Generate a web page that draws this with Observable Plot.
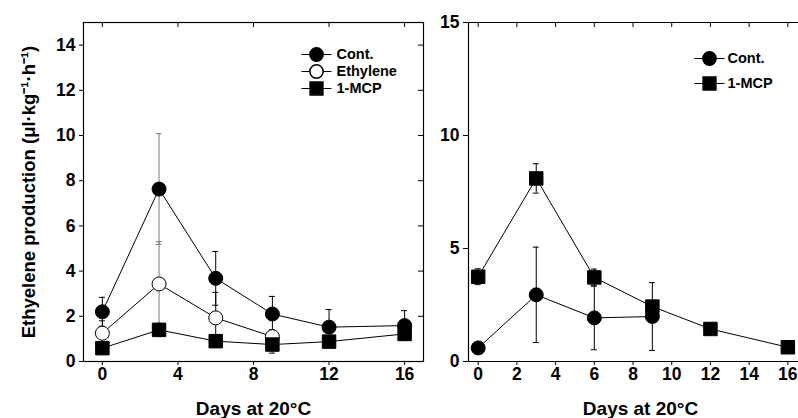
<!DOCTYPE html>
<html>
<head>
<meta charset="utf-8">
<script src="https://cdn.jsdelivr.net/npm/d3@7"></script>
<script src="https://cdn.jsdelivr.net/npm/@observablehq/plot@0.6"></script>
<style>
  html, body { margin: 0; padding: 0; background: #fff; }
  #chart { position: relative; width: 798px; height: 418px; overflow: hidden; }
  #chart > svg { position: absolute; top: 0; }
</style>
</head>
<body>
<div id="chart"></div>
<script>
// ---------- data ----------
const yLabel = "Ethyelene production (μl·kg⁻¹·h⁻¹)";
const xLabel = "Days at 20°C";

// Left panel
const leftDays = [0, 3, 6, 9, 12, 16];
const leftCont = [2.2, 7.63, 3.68, 2.1, 1.52, 1.59];
const leftContSE = [0.64, 2.45, 1.19, 0.78, 0.78, 0.66];
const leftEthDays = [0, 3, 6, 9];
const leftEth = [1.25, 3.43, 1.93, 1.1];
const leftEthSE = [0.55, 1.87, 1.13, 0.3];
const leftMCP = [0.59, 1.4, 0.9, 0.75, 0.88, 1.22];
const leftMCPSE = [0.15, 0.3, 0.2, 0.38, 0.2, 0.29];
const leftXTicks = [0, 4, 8, 12, 16];
const leftYTicks = [0, 2, 4, 6, 8, 10, 12, 14];
const leftLegend = ["Cont.", "Ethylene", "1-MCP"];

// Right panel
const rightDays = [0, 3, 6, 9, 12, 16];
const rightMCP = [3.75, 8.1, 3.72, 2.43, 1.44, 0.63];
const rightMCPSE = [0.35, 0.65, 0.37, 0.2, 0.1, 0.1];
const rightContDays = [0, 3, 6, 9];
const rightCont = [0.6, 2.95, 1.93, 1.99];
const rightContSE = [0.15, 2.11, 1.41, 1.5];
const rightXTicks = [0, 2, 4, 6, 8, 10, 12, 14, 16];
const rightYTicks = [0, 5, 10, 15];
const rightLegend = ["Cont.", "1-MCP"];

// ---------- helpers ----------
const rows = (series, days, vals, se) =>
  days.map((d, i) => ({series, day: d, v: vals[i], se: se[i]}));

const FONT = "'Liberation Sans', Arial, Helvetica, sans-serif";
const H = 418, MT = 22, MB = 57;
const TICK_FS = 17.5;

const lineSymbol = {draw(ctx) { ctx.moveTo(-15, 0); ctx.lineTo(15, 0); }};

const styleOf = {
  "Cont.":    {symbol: "circle", r: 7,   fill: "black"},
  "Ethylene": {symbol: "circle", r: 7,   fill: "white"},
  "1-MCP":    {symbol: "square", r: 7.6, fill: "black"}
};

function seriesMarks(data, barColor) {
  return [
    Plot.ruleX(data, {x: "day", y1: d => d.v - d.se, y2: d => d.v + d.se, stroke: barColor, strokeWidth: 1}),
    Plot.ruleY(data, {x1: "day", x2: "day", y: d => d.v + d.se, stroke: barColor, insetLeft: -3, insetRight: -3}),
    Plot.ruleY(data, {x1: "day", x2: "day", y: d => d.v - d.se, stroke: barColor, insetLeft: -3, insetRight: -3})
  ];
}
function dotMarks(data) {
  const st = styleOf[data[0].series];
  return Plot.dot(data, {x: "day", y: "v", symbol: st.symbol, r: st.r, fill: st.fill, stroke: "black", strokeWidth: 1});
}
function legendMarks(labels, dx0, dy0, step, textDx) {
  return labels.flatMap((lab, i) => {
    const st = styleOf[lab];
    return [
      Plot.dot([lab], {frameAnchor: "top-left", dx: dx0, dy: dy0 + i * step, symbol: lineSymbol, stroke: "black", strokeWidth: 1, fill: "none"}),
      Plot.dot([lab], {frameAnchor: "top-left", dx: dx0, dy: dy0 + i * step, symbol: st.symbol, r: st.r * 0.95, fill: st.fill, stroke: "black"}),
      Plot.text([lab], {frameAnchor: "top-left", dx: textDx, dy: dy0 + i * step, text: d => d, textAnchor: "start", lineAnchor: "middle", fontSize: 14.5, fontWeight: "bold", fill: "black"})
    ];
  });
}

// ---------- left panel ----------
const lCont = rows("Cont.", leftDays, leftCont, leftContSE);
const lEth = rows("Ethylene", leftEthDays, leftEth, leftEthSE);
const lMCP = rows("1-MCP", leftDays, leftMCP, leftMCPSE);
const leftW = 430, leftML = 83, leftMR = 7;
const leftBar = d => d.day === 3 ? "#7a7a7a" : "black";

const left = Plot.plot({
  width: leftW, height: H,
  marginLeft: leftML, marginRight: leftMR, marginTop: MT, marginBottom: MB,
  x: {domain: [-1, 17]},
  y: {domain: [0, 15]},
  style: {fontFamily: FONT, background: "transparent", color: "black"},
  marks: [
    Plot.frame({stroke: "black", strokeWidth: 1.2}),
    Plot.axisY({anchor: "left", ticks: leftYTicks, tickSize: 4, tickPadding: 4, fontSize: TICK_FS, fontWeight: "bold", label: null}),
    Plot.axisX({anchor: "bottom", ticks: leftXTicks, tickSize: 4, tickPadding: 2, fontSize: TICK_FS, fontWeight: "bold", label: null}),
    Plot.tickX(leftXTicks, {x: d => d, insetBottom: (H - MT - MB) - 5, stroke: "black"}),
    Plot.tickY(leftYTicks, {y: d => d, insetLeft: (leftW - leftML - leftMR) - 5, stroke: "black"}),
    Plot.line([...lCont, ...lEth, ...lMCP], {x: "day", y: "v", z: "series", stroke: "black", strokeWidth: 1}),
    ...seriesMarks(lCont, leftBar),
    ...seriesMarks(lEth, leftBar),
    ...seriesMarks(lMCP, leftBar),
    dotMarks(lCont),
    dotMarks(lEth),
    dotMarks(lMCP),
    ...legendMarks(leftLegend, 233, 32, 17, 253),
    Plot.text([yLabel], {frameAnchor: "left", dx: -54, rotate: -90, textAnchor: "middle", lineAnchor: "middle", text: d => d, fontSize: 18.5, fontWeight: "bold", fill: "black"}),
    Plot.text([xLabel], {frameAnchor: "bottom", dy: 47.5, text: d => d, lineAnchor: "middle", fontSize: 19, fontWeight: "bold", fill: "black"})
  ]
});
left.style.left = "0px";

// ---------- right panel ----------
const rCont = rows("Cont.", rightContDays, rightCont, rightContSE);
const rMCP = rows("1-MCP", rightDays, rightMCP, rightMCPSE);
const rightX0 = -0.5, rightX1 = 16.55;
const rightW = 368, rightML = 38, rightMR = 0;

const right = Plot.plot({
  width: rightW, height: H,
  marginLeft: rightML, marginRight: rightMR, marginTop: MT, marginBottom: MB,
  x: {domain: [rightX0, rightX1]},
  y: {domain: [0, 15]},
  style: {fontFamily: FONT, background: "transparent", color: "black"},
  marks: [
    Plot.ruleY([0, 15], {stroke: "black", strokeWidth: 1.2}),
    Plot.ruleX([rightX0], {stroke: "black", strokeWidth: 1.2}),
    Plot.axisY({anchor: "left", ticks: rightYTicks, tickSize: 5, tickPadding: 4, fontSize: TICK_FS, fontWeight: "bold", label: null}),
    Plot.axisX({anchor: "bottom", ticks: rightXTicks, tickSize: 4, tickPadding: 2, fontSize: TICK_FS, fontWeight: "bold", label: null}),
    Plot.tickX(rightXTicks, {x: d => d, insetBottom: (H - MT - MB) - 5, stroke: "black"}),
    Plot.line([...rCont, ...rMCP], {x: "day", y: "v", z: "series", stroke: "black", strokeWidth: 1}),
    ...seriesMarks(rCont, "black"),
    ...seriesMarks(rMCP, "black"),
    dotMarks(rCont),
    dotMarks(rMCP),
    ...legendMarks(rightLegend, 241, 36, 25, 259),
    Plot.text([xLabel], {frameAnchor: "bottom", dx: 7, dy: 47.5, text: d => d, lineAnchor: "middle", fontSize: 19, fontWeight: "bold", fill: "black"})
  ]
});
right.style.left = "430px";

const chart = document.getElementById("chart");
chart.appendChild(left);
chart.appendChild(right);
</script>
</body>
</html>
